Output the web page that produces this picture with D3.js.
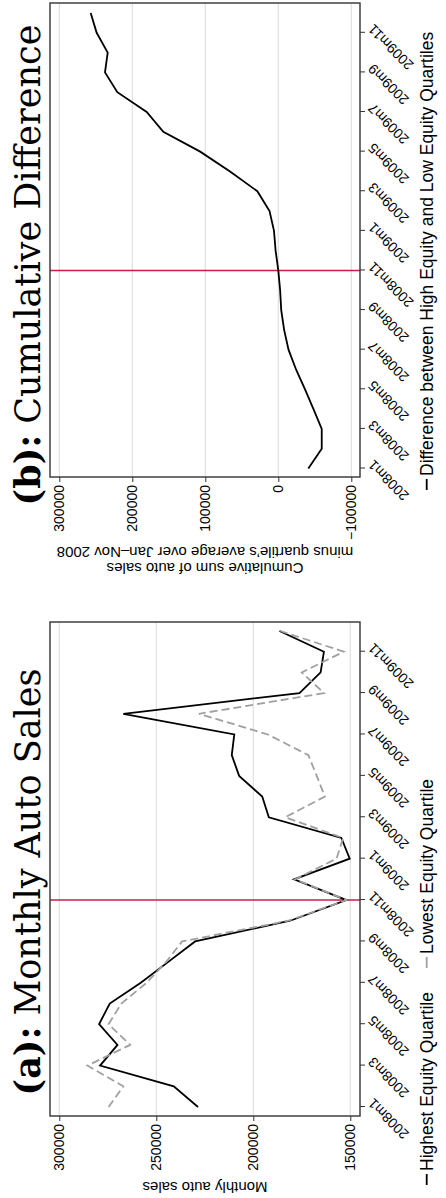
<!DOCTYPE html>
<html>
<head>
<meta charset="utf-8">
<script src="https://cdn.jsdelivr.net/npm/d3@7"></script>
<style>
  body { margin: 0; background: #fff; }
  svg { display: block; }
  text { font-family: "Liberation Sans", Arial, sans-serif; fill: #000; }
</style>
</head>
<body>
<svg id="chart"></svg>
<script>
// monthly series, Jan 2008 to Dec 2009
const months = ["2008m1","2008m2","2008m3","2008m4","2008m5","2008m6","2008m7","2008m8","2008m9","2008m10","2008m11","2008m12",
  "2009m1","2009m2","2009m3","2009m4","2009m5","2009m6","2009m7","2009m8","2009m9","2009m10","2009m11","2009m12"];

const highEquity = [228500, 241000, 279000, 270000, 279500, 274000, 258000, 244000, 230000, 181000, 152000, 179000,
  150300, 154600, 192000, 195400, 207300, 211100, 209800, 267000, 176200, 165300, 163600, 186500];

const lowEquity = [274600, 267000, 285500, 263500, 274600, 268000, 255000, 245000, 236700, 182000, 152000, 178500,
  157100, 153700, 183500, 163100, 167300, 171600, 192500, 228000, 163600, 175000, 153400, 186000];

const cumDiff = [-41100, -59500, -59500, -48200, -36600, -24300, -14000, -8000, -4000, -2500, 0, 3700,
  5900, 12000, 28700, 66100, 107000, 157500, 180300, 220500, 237400, 233700, 248800, 257000];

const monthTicks = months.filter((m, i) => i % 2 === 0);
const salesTicks = [150000, 200000, 250000, 300000];
const cumTicks = [-100000, 0, 100000, 200000, 300000];
const eventMonth = "2008m11";

// the figure is laid out landscape and then turned a quarter turn
const W = 1198, H = 446;

const svg = d3.select("#chart")
  .attr("width", H)
  .attr("height", W);

const fig = svg.append("g")
  .attr("transform", "translate(0," + W + ") rotate(-90)");

function drawPanel(p) {
  const g = fig.append("g");

  const x = d3.scalePoint().domain(months).range(p.xRange);
  const y = d3.scaleLinear().domain(p.yDomain).range(p.yRange);

  // grid
  g.append("g").selectAll("line")
    .data(p.yTicks)
    .join("line")
    .attr("x1", p.frame.left).attr("x2", p.frame.right)
    .attr("y1", d => y(d)).attr("y2", d => y(d))
    .attr("stroke", "#e0e0e0")
    .attr("stroke-width", 1.2);

  // y axis
  const yAxis = g.append("g")
    .attr("transform", "translate(" + p.frame.left + ",0)")
    .call(d3.axisLeft(y).tickValues(p.yTicks).tickSize(5).tickPadding(3).tickFormat(d3.format("d")));
  yAxis.select(".domain").remove();
  yAxis.selectAll("line").attr("stroke", "#333");
  yAxis.selectAll("text").style("font-size", "14px").attr("fill", "#000");

  // x axis
  const xAxis = g.append("g")
    .attr("transform", "translate(0," + p.frame.bottom + ")")
    .call(d3.axisBottom(x).tickValues(monthTicks).tickSize(5));
  xAxis.select(".domain").remove();
  xAxis.selectAll("line").attr("stroke", "#333");
  xAxis.selectAll("text")
    .style("font-size", "14px")
    .attr("fill", "#000")
    .attr("text-anchor", "end")
    .attr("x", 0).attr("y", 0).attr("dy", "0.7em")
    .attr("transform", "translate(2,7) rotate(-45)");

  // event line
  g.append("line")
    .attr("x1", x(eventMonth)).attr("x2", x(eventMonth))
    .attr("y1", p.frame.top).attr("y2", p.frame.bottom)
    .attr("stroke", "#c81e4a")
    .attr("stroke-width", 1.5);

  const line = d3.line()
    .x((d, i) => x(months[i]))
    .y(d => y(d));

  p.series.forEach(s => {
    g.append("path")
      .datum(s.values)
      .attr("d", line)
      .attr("fill", "none")
      .attr("stroke", s.color)
      .attr("stroke-width", 1.8)
      .attr("stroke-dasharray", s.dash || null);
  });

  // frame
  g.append("rect")
    .attr("x", p.frame.left).attr("y", p.frame.top)
    .attr("width", p.frame.right - p.frame.left)
    .attr("height", p.frame.bottom - p.frame.top)
    .attr("fill", "none")
    .attr("stroke", "#333")
    .attr("stroke-width", 1.4);

  // axis title
  const yt = g.append("text")
    .attr("transform", "translate(" + p.yTitleX + "," + ((p.frame.top + p.frame.bottom) / 2) + ") rotate(-90)")
    .attr("text-anchor", "middle")
    .style("font-size", "15px");
  p.yTitle.forEach((t, i) => {
    yt.append("tspan").attr("x", 0).attr("dy", i === 0 ? 0 : "1.07em").text(t);
  });

  // title
  const title = g.append("text")
    .attr("x", p.titleX).attr("y", 40)
    .attr("text-anchor", "middle")
    .style("font-family", "'DejaVu Serif', serif")
    .style("font-size", "35px");
  title.append("tspan").style("font-weight", "bold").text(p.title[0]);
  title.append("tspan").text(" " + p.title[1]);

  // legend
  let lx = p.legendX;
  p.series.forEach(s => {
    const lg = g.append("g").attr("transform", "translate(" + lx + ",433)");
    lg.append("line")
      .attr("x1", 0).attr("x2", 11)
      .attr("y1", -6.3).attr("y2", -6.3)
      .attr("stroke", s.color)
      .attr("stroke-width", 1.8);
    const t = lg.append("text")
      .attr("x", 14)
      .style("font-size", "17.5px")
      .text(s.label);
    lx += t.node().getComputedTextLength() + 14 + p.legendGap;
  });
}

drawPanel({
  frame: { left: 82, right: 576, top: 50, bottom: 360 },
  xRange: [91, 567],
  yDomain: [150000, 300000],
  yRange: [350.3, 59.3],
  yTicks: salesTicks,
  yTitle: ["Monthly auto sales"],
  yTitleX: 16,
  title: ["(a):", "Monthly Auto Sales"],
  titleX: 316,
  legendX: 13,
  legendGap: 24,
  series: [
    { label: "Highest Equity Quartile", values: highEquity, color: "#000" },
    { label: "Lowest Equity Quartile", values: lowEquity, color: "#a0a0a0", dash: "8,4" }
  ]
});

drawPanel({
  frame: { left: 721, right: 1195, top: 50, bottom: 360 },
  xRange: [729.5, 1185],
  yDomain: [-100000, 300000],
  yRange: [351.3, 59.3],
  yTicks: cumTicks,
  yTitle: ["Cumulative sum of auto sales", "minus quartile\u2019s average over Jan\u2013Nov 2008"],
  yTitleX: 635,
  title: ["(b):", "Cumulative Difference"],
  titleX: 933,
  legendX: 708,
  legendGap: 24,
  series: [
    { label: "Difference between High Equity and Low Equity Quartiles", values: cumDiff, color: "#000" }
  ]
});
</script>
</body>
</html>
